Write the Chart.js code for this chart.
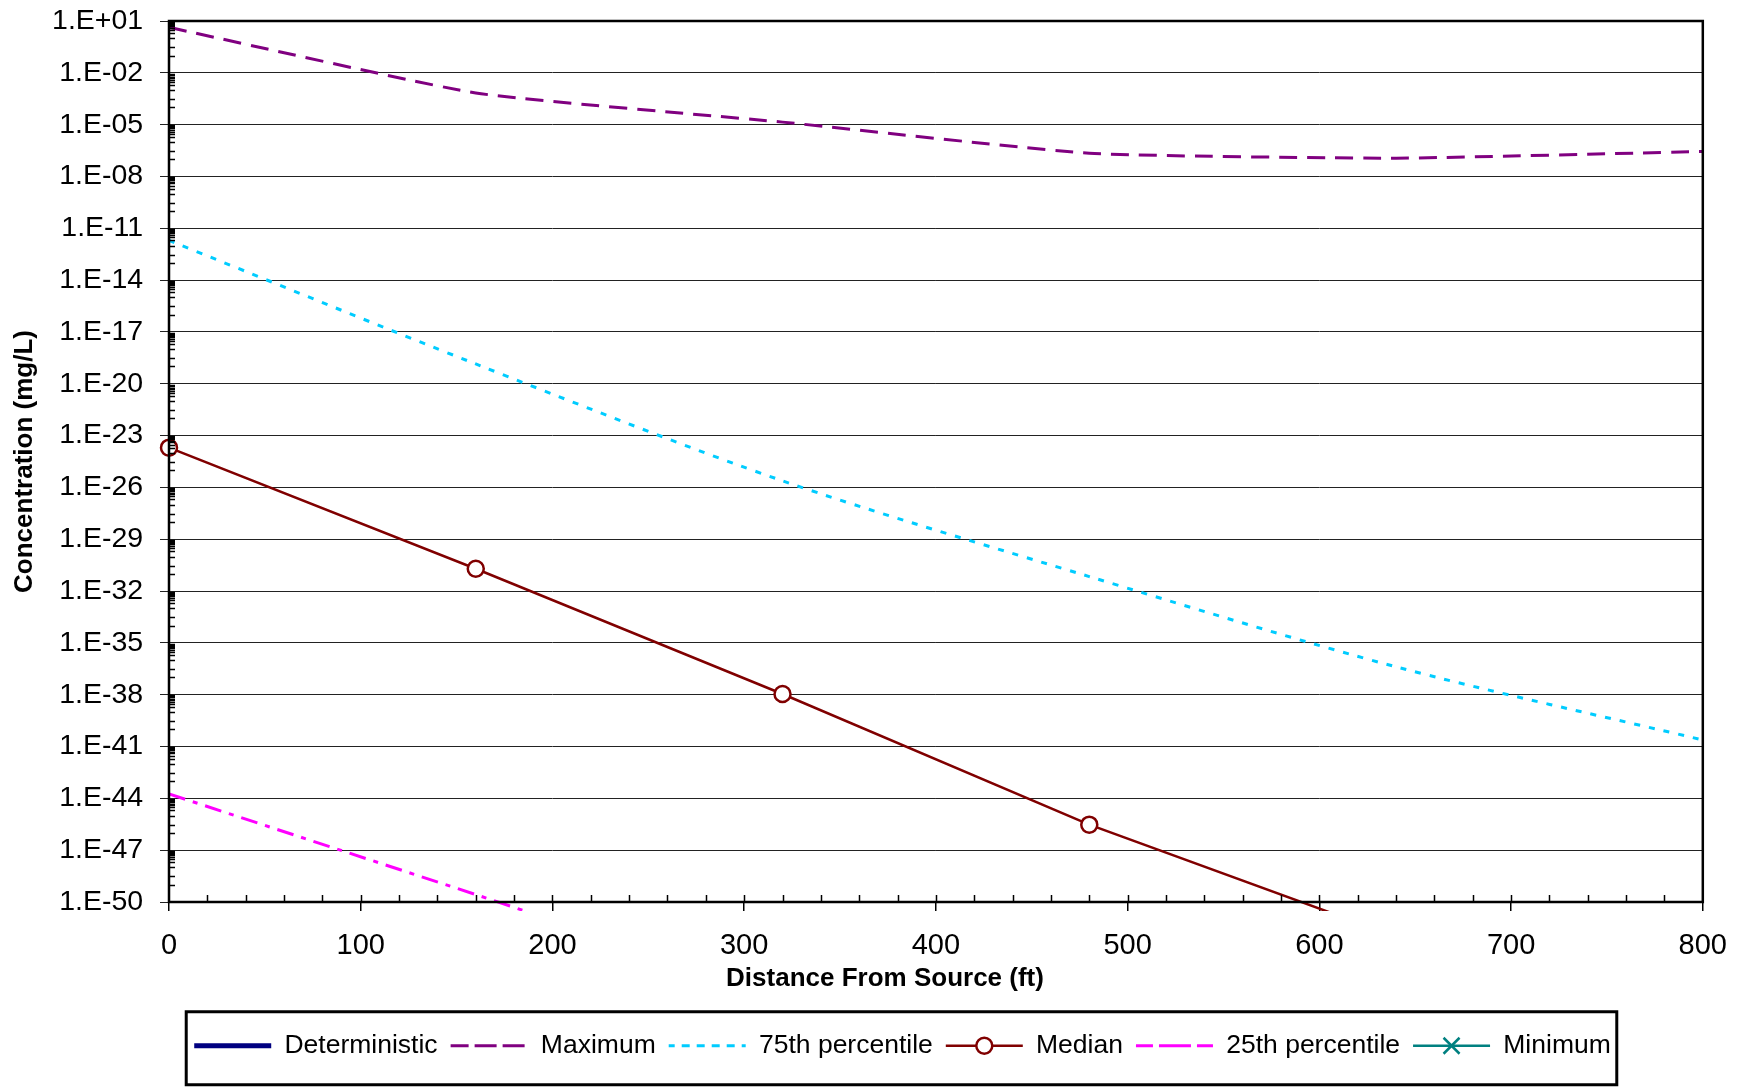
<!DOCTYPE html>
<html>
<head>
<meta charset="utf-8">
<script src="https://cdn.jsdelivr.net/npm/chart.js@4.4.0/dist/chart.umd.min.js"></script>
<style>
  html, body { margin: 0; padding: 0; background: #fff; }
</style>
</head>
<body>
<canvas id="chart" width="1745" height="1090"></canvas>
<script>
  // distances (ft) where each series was evaluated
  var distance = [0, 160, 320, 480, 640, 800];

  // concentrations (mg/L)
  var deterministic = [null, null, null, null, null, null];
  var maximum = [4.3, 6.8e-4, 1.4e-5, 2.2e-7, 1.15e-7, 2.8e-7];
  var pct75 = [2.0e-12, 1.4e-19, 2.4e-26, 6.9e-32, 4.1e-37, 2.4e-41];
  var median = [2.0e-24, 1.95e-31, 1.1e-38, 3.0e-46, 1.0e-52, 2.5e-59];
  var pct25 = [1.8e-44, 2.7e-50, 3e-56, 3e-62, 3e-68, 3e-74];
  var minimum = [null, null, null, null, null, null];

  var xTicks = [0, 100, 200, 300, 400, 500, 600, 700, 800];
  var yTickExponents = [1, -2, -5, -8, -11, -14, -17, -20, -23, -26, -29, -32, -35, -38, -41, -44, -47, -50];

  var FONT = "'Liberation Sans', Arial, sans-serif";
  Chart.defaults.font.family = FONT;
  Chart.defaults.color = '#000';

  function pts(ys) {
    return distance.map(function(d, i){ return {x: d, y: ys[i]}; });
  }

  // 1.E+01 style labels, trailing spaces push them off the tick marks
  function expLabel(v) {
    var e = Math.round(Math.log10(v));
    var a = Math.abs(e);
    return '1.E' + (e < 0 ? '-' : '+') + (a < 10 ? '0' : '') + a + '  ';
  }

  var clipArea = {left: 12, top: 0, right: 0, bottom: 9};

  var datasets = [
    {label: 'Deterministic', data: pts(deterministic), borderColor: '#000080', backgroundColor: '#000080',
      borderWidth: 5, borderCapStyle: 'round', pointRadius: 0, tension: 0},
    {label: 'Maximum', data: pts(maximum), borderColor: '#800080', backgroundColor: '#800080',
      borderWidth: 3, borderDash: [18, 10], pointRadius: 0, tension: 0.15},
    {label: '75th percentile', data: pts(pct75), borderColor: '#00CCFF', backgroundColor: '#00CCFF',
      borderWidth: 3, borderDash: [6, 9], pointRadius: 0, tension: 0.3},
    {label: 'Median', data: pts(median), borderColor: '#800000', backgroundColor: '#800000',
      borderWidth: 2.5, pointRadius: 8, pointStyle: 'circle', pointBorderWidth: 2.5,
      pointBackgroundColor: '#fff', pointBorderColor: '#800000', tension: 0},
    {label: '25th percentile', data: pts(pct25), borderColor: '#FF00FF', backgroundColor: '#FF00FF',
      borderWidth: 3, borderDash: [17, 8, 5, 8], pointRadius: 0, tension: 0},
    {label: 'Minimum', data: pts(minimum), borderColor: '#008080', backgroundColor: '#008080',
      borderWidth: 2.5, pointRadius: 9, pointStyle: 'crossRot', tension: 0}
  ];
  datasets.forEach(function(ds){ ds.clip = clipArea; ds.fill = false; });

  var extras = {
    id: 'extras',
    afterLayout: function(chart) {
      // centre the legend row under the plot like the original
      var lg = chart.legend;
      lg.left = 102;
      lg.width = lg.right - lg.left;
    },
    afterDraw: function(chart) {
      var ctx = chart.ctx, area = chart.chartArea;
      var xs = chart.scales.x, ys = chart.scales.y;
      ctx.save();

      // minor ticks inside the plot
      ctx.strokeStyle = '#000';
      ctx.lineWidth = 1.5;
      ctx.beginPath();
      for (var ft = 20; ft < 800; ft += 20) {
        var px = Math.round(xs.getPixelForValue(ft)) + 0.5;
        ctx.moveTo(px, area.bottom);
        ctx.lineTo(px, area.bottom - 7);
      }
      var mults = [10, 30, 100, 200, 300, 400, 500, 600, 700, 800, 900];
      for (var i = 1; i < yTickExponents.length; i++) {
        var low = parseFloat('1e' + yTickExponents[i]);
        mults.forEach(function(m){
          var py = Math.round(ys.getPixelForValue(low * m)) + 0.5;
          ctx.moveTo(area.left, py);
          ctx.lineTo(area.left + 6, py);
        });
      }
      ctx.stroke();

      // plot frame
      ctx.lineWidth = 2.5;
      ctx.strokeRect(area.left, area.top, area.right - area.left, area.bottom - area.top);

      // axis titles
      ctx.fillStyle = '#000';
      ctx.font = 'bold 26px ' + FONT;
      ctx.textAlign = 'center';
      ctx.textBaseline = 'middle';
      ctx.fillText('Distance From Source (ft)', 885, 979);
      ctx.translate(25, (area.top + area.bottom) / 2);
      ctx.rotate(-Math.PI / 2);
      ctx.fillText('Concentration (mg/L)', 0, 0);
      ctx.restore();

      // legend frame and markers
      var lg = chart.legend, hb = lg.legendHitBoxes;
      if (!hb || !hb.length) return;
      var boxW = lg.options.labels.boxWidth;
      var cy = hb[0].top + hb[0].height / 2;
      var last = hb[hb.length - 1];
      ctx.save();
      ctx.strokeStyle = '#000';
      ctx.lineWidth = 3;
      ctx.strokeRect(hb[0].left - 8, cy - 34, last.left + last.width + 6 - (hb[0].left - 8), 73);

      var m = hb[3];
      ctx.beginPath();
      ctx.arc(m.left + boxW / 2, cy, 8, 0, Math.PI * 2);
      ctx.fillStyle = '#fff';
      ctx.fill();
      ctx.lineWidth = 2.5;
      ctx.strokeStyle = '#800000';
      ctx.stroke();

      var n = hb[5], cx = n.left + boxW / 2, r = 8;
      ctx.beginPath();
      ctx.moveTo(cx - r, cy - r); ctx.lineTo(cx + r, cy + r);
      ctx.moveTo(cx - r, cy + r); ctx.lineTo(cx + r, cy - r);
      ctx.strokeStyle = '#008080';
      ctx.lineWidth = 2.5;
      ctx.stroke();
      ctx.restore();
    }
  };

  var chart = new Chart(document.getElementById('chart').getContext('2d'), {
    type: 'line',
    data: {datasets: datasets},
    options: {
      responsive: false,
      animation: false,
      devicePixelRatio: 1,
      layout: {padding: {left: 0, right: 42, top: 21, bottom: 21}},
      plugins: {
        legend: {
          position: 'bottom',
          labels: {boxWidth: 77, boxHeight: 0, padding: 13, font: {size: 26.5}, color: '#000'}
        },
        tooltip: {enabled: false}
      },
      scales: {
        x: {
          type: 'linear', min: 0, max: 800,
          afterBuildTicks: function(s){ s.ticks = xTicks.map(function(v){ return {value: v}; }); },
          afterFit: function(s){ s.height = 1090 - 21 - s.chart.legend.height - 902; },
          grid: {drawOnChartArea: false, drawTicks: true, tickLength: 9, color: '#000', lineWidth: 1.5},
          border: {display: false},
          ticks: {font: {size: 29}, padding: 18, color: '#000', maxRotation: 0, autoSkip: false}
        },
        y: {
          type: 'logarithmic', min: 1e-50, max: 10,
          afterBuildTicks: function(s){
            s.ticks = yTickExponents.map(function(e){ return {value: parseFloat('1e' + e)}; });
          },
          afterFit: function(s){ s.width = 169; },
          grid: {color: '#222', lineWidth: 1, tickLength: 9},
          border: {display: false},
          ticks: {font: {size: 28.5}, padding: 1, color: '#000', autoSkip: false,
            callback: function(v){ return expLabel(v); }}
        }
      }
    },
    plugins: [extras]
  });
</script>
</body>
</html>
